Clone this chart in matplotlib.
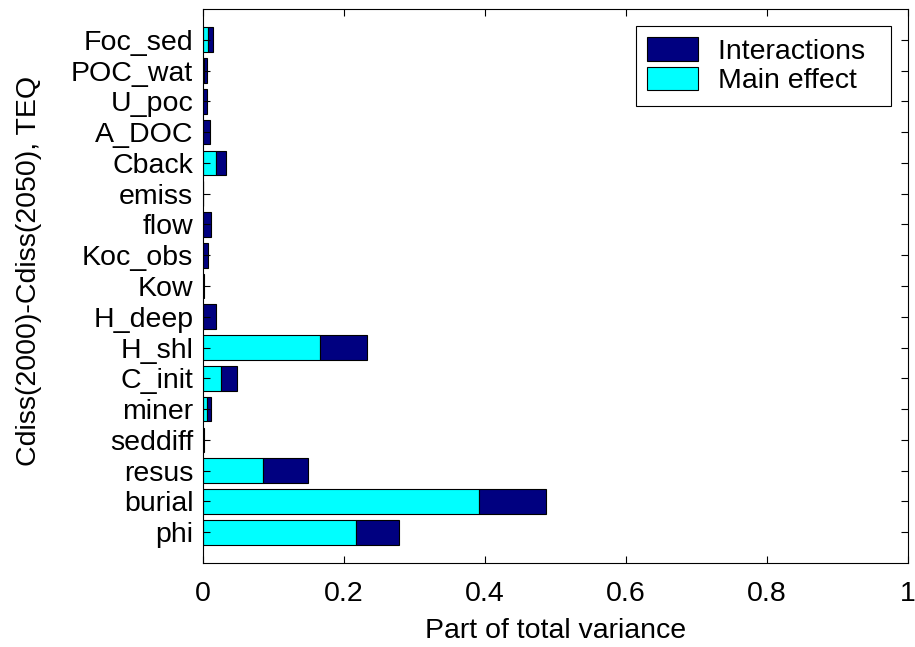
import matplotlib
matplotlib.use("Agg")
import matplotlib.pyplot as plt
import numpy as np

plt.rcParams['font.family'] = ['Liberation Sans', 'DejaVu Sans']

categories = ["phi", "burial", "resus", "seddiff", "miner", "C_init", "H_shl",
              "H_deep", "Kow", "Koc_obs", "flow", "emiss", "Cback", "A_DOC",
              "U_poc", "POC_wat", "Foc_sed"]
main_effect = [0.217, 0.392, 0.085, 0.0005, 0.006, 0.0255, 0.166,
               0.0, 0.0, 0.0, 0.0, 0.0, 0.018, 0.0,
               0.0, 0.001, 0.0075]
total = [0.278, 0.487, 0.149, 0.002, 0.012, 0.048, 0.233,
         0.018, 0.002, 0.0075, 0.011, 0.0, 0.033, 0.010,
         0.006, 0.006, 0.0137]
interactions = [t - m for t, m in zip(total, main_effect)]
xticks = [0, 0.2, 0.4, 0.6, 0.8, 1]
xticklabels = ["0", "0.2", "0.4", "0.6", "0.8", "1"]
legend_labels = ["Interactions", "Main effect"]

FS = 20.5

fig = plt.figure(figsize=(9.15, 6.47), dpi=100)
ax = fig.add_axes([203/915, 1 - 563/647, 705/915, 554/647])

y = np.arange(1, len(categories) + 1)
b1 = ax.barh(y, main_effect, height=0.8, color='#00FFFF', edgecolor='black', linewidth=0.8)
b2 = ax.barh(y, interactions, left=main_effect, height=0.8, color='#000080', edgecolor='black', linewidth=0.8)

ax.set_xlim(0, 1)
ax.set_ylim(0, 18)
ax.set_yticks(y)
ax.set_yticklabels(categories, fontsize=FS)
ax.set_xticks(xticks)
ax.set_xticklabels(xticklabels, fontsize=FS)
ax.tick_params(direction='in', top=True, right=True, length=5, width=0.8)
ax.tick_params(axis='x', pad=13)
ax.tick_params(axis='y', pad=7)
ax.set_xlabel("Part of total variance", fontsize=FS, labelpad=8)
ax.set_ylabel("Cdiss(2000)-Cdiss(2050), TEQ", fontsize=FS)
ax.yaxis.set_label_coords(-0.228, 0.527)
for s in ax.spines.values():
    s.set_linewidth(0.8)

leg = ax.legend([b2, b1], [lab + "\u2002" for lab in legend_labels], loc='upper right',
                fontsize=FS, fancybox=False, edgecolor='black', framealpha=1,
                borderaxespad=0.6, handlelength=1.8, handleheight=0.9,
                labelspacing=0.05, borderpad=0.4, handletextpad=0.7)
leg.get_frame().set_linewidth(0.8)

fig.savefig("out.png", dpi=100)
